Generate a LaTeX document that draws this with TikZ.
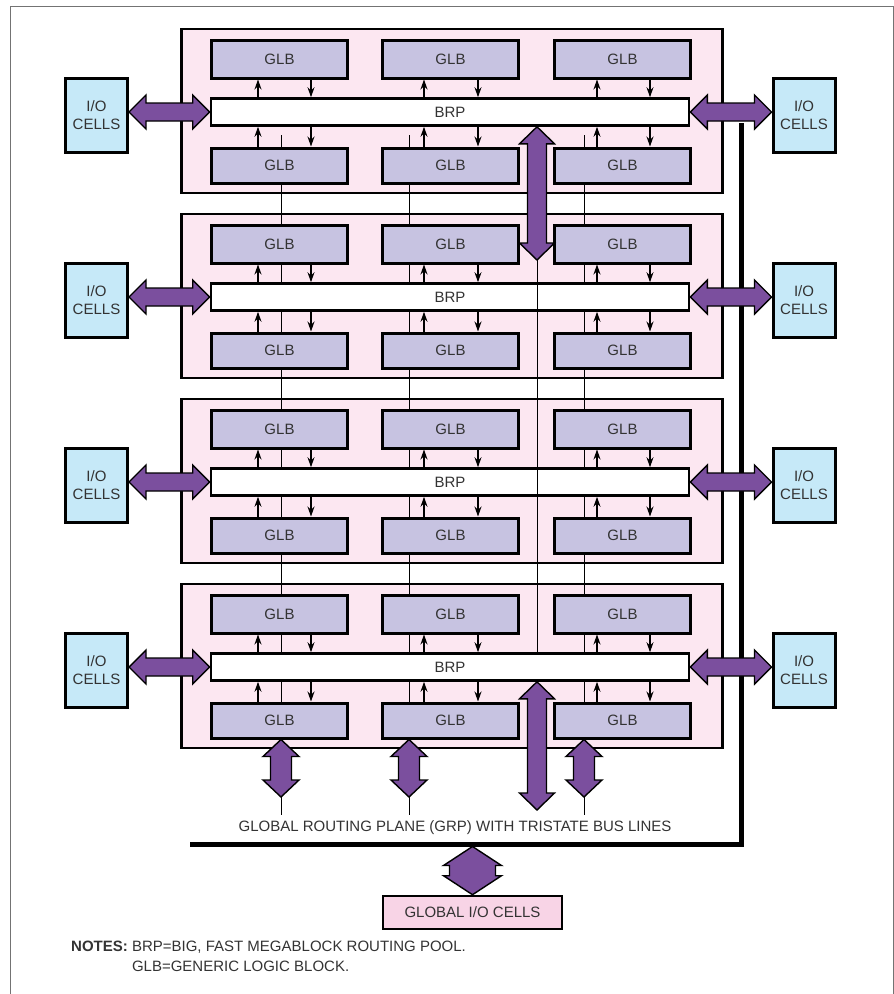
\documentclass[tikz,border=0pt]{standalone}
\usepackage{fontspec}
\setmainfont{Liberation Sans}
\usetikzlibrary{arrows.meta,calc}

\definecolor{mbpink}{RGB}{252,231,241}
\definecolor{glbblue}{RGB}{199,195,225}
\definecolor{iocyan}{RGB}{198,233,248}
\definecolor{buspurple}{RGB}{123,79,158}
\definecolor{gpink}{RGB}{248,212,230}
\definecolor{ink}{RGB}{51,51,51}

% fat double arrow, horizontal: #1 left end, #2 right end,
% #3 half shaft, #4 half head, #5 head length (pt)
\newcommand{\hbus}[5]{%
  \path[bus] let \p1=(#1), \p2=(#2) in
    (\x1,\y1) -- (\x1+#5pt,\y1+#4pt) -- (\x1+#5pt,\y1+#3pt)
    -- (\x2-#5pt,\y1+#3pt) -- (\x2-#5pt,\y1+#4pt) -- (\x2,\y1)
    -- (\x2-#5pt,\y1-#4pt) -- (\x2-#5pt,\y1-#3pt)
    -- (\x1+#5pt,\y1-#3pt) -- (\x1+#5pt,\y1-#4pt) -- cycle;}
% same, vertical: #1 top end, #2 bottom end
\newcommand{\vbus}[5]{%
  \path[bus] let \p1=(#1), \p2=(#2) in
    (\x1,\y1) -- (\x1+#4pt,\y1-#5pt) -- (\x1+#3pt,\y1-#5pt)
    -- (\x1+#3pt,\y2+#5pt) -- (\x1+#4pt,\y2+#5pt) -- (\x1,\y2)
    -- (\x1-#4pt,\y2+#5pt) -- (\x1-#3pt,\y2+#5pt)
    -- (\x1-#3pt,\y1-#5pt) -- (\x1-#4pt,\y1-#5pt) -- cycle;}

\begin{document}
\begin{tikzpicture}[x=1pt, y=-1pt, font=\fontsize{15}{18}\selectfont,
  every node/.append style={text=ink},
  mblock/.style={draw, line width=2.6pt, fill=mbpink, minimum width=541pt,
    minimum height=164pt, inner sep=0pt},
  glb/.style={draw, line width=3pt, fill=glbblue, minimum width=136pt, inner sep=0pt},
  brp/.style={draw, line width=2.6pt, fill=white, minimum width=478pt,
    minimum height=27pt, inner sep=0pt},
  iocell/.style={draw, line width=3pt, fill=iocyan, align=center,
    minimum width=62pt, minimum height=74pt, inner sep=0pt},
  sig/.style={line width=1.1pt, -{Stealth[length=10pt,width=7pt]}},
  wire/.style={line width=1pt},
  bus/.style={fill=buspurple, draw=black, line width=1.4pt, line join=miter}]

\useasboundingbox (0,0) rectangle (894,994);

%--- Frame ---
\draw[black!55, line width=1pt] (10,6) rectangle (893,1010);

%--- Global routing plane ---
\draw[line width=5pt, line join=miter] (741.5,123) -- (741.5,844) -- (190,844);

%--- Megablocks ---
\foreach \b in {1,...,4}{
  \pgfmathsetmacro{\yt}{29+185*(\b-1)}
  \node[mblock] (mb\b) at (452,\yt+82) {};
}

%--- Vertical lines ---
\foreach \xl in {281,409,584}
  \draw[wire] (\xl,135) -- (\xl,815);

%--- GLB / BRP / I/O ---
\foreach \b in {1,...,4}{
  \pgfmathsetmacro{\yt}{29+185*(\b-1)}
  \node[brp] (brp\b) at (450,\yt+83) {BRP};
  \foreach \c/\xc in {1/279.5,2/450.5,3/622.5}{
    \node[glb, minimum height=38pt] (t\b\c) at (\xc,\yt+30) {GLB};
    \node[glb, minimum height=35pt] (u\b\c) at (\xc,\yt+136.5) {GLB};
  }
  \node[iocell] (iol\b) at (96.5,\yt+86) {I/O\\CELLS};
  \node[iocell] (ior\b) at (804,\yt+86) {I/O\\CELLS};
  \foreach \c/\xu/\xd in {1/258/311,2/424/478,3/597/650}{
    \draw[sig] (\xu,0 |- brp\b.north) -- (\xu,0 |- t\b\c.south);
    \draw[sig] (\xd,0 |- t\b\c.south) -- (\xd,0 |- brp\b.north);
    \draw[sig] (\xu,0 |- u\b\c.north) -- (\xu,0 |- brp\b.south);
    \draw[sig] (\xd,0 |- brp\b.south) -- (\xd,0 |- u\b\c.north);
  }
  \hbus{iol\b.east |- brp\b.west}{brp\b.west}{9}{17}{17}
  \hbus{brp\b.east}{ior\b.west |- brp\b.east}{9}{17}{17}
}

%--- Megablock taps ---
\coordinate (tap1) at (537,260);
\coordinate (tap4) at (537,810);
\draw[wire] (tap1) -- (tap1 |- brp4.north);
\vbus{tap1 |- brp1.south}{tap1}{9.5}{17.5}{17}
\vbus{tap4 |- brp4.south}{tap4}{9.5}{17.5}{17}

\foreach \c/\xl in {1/281,2/409,3/584}{
  \coordinate (drop\c) at (\xl,797);
  \vbus{drop\c |- u4\c.south}{drop\c}{10.5}{18}{17}
}

%--- Labels ---
\node (grp) at (455,828) {GLOBAL ROUTING PLANE (GRP) WITH TRISTATE BUS LINES};

\node[draw, line width=2.6pt, fill=gpink, minimum width=179pt, minimum height=33pt,
  inner sep=0pt] (gio) at (472.5,912.5) {GLOBAL I/O CELLS};
\coordinate (gtap) at (472.5,846.5);
\vbus{gtap}{gio.north}{23}{29}{19}

\node[anchor=north west, inner sep=0pt] (notes) at (71,937)
  {\fontsize{15}{20}\selectfont
   \begin{tabular}{@{}l@{ }l@{}}
     \textbf{NOTES:} & BRP=BIG, FAST MEGABLOCK ROUTING POOL.\\
                     & GLB=GENERIC LOGIC BLOCK.
   \end{tabular}};

\end{tikzpicture}
\end{document}
